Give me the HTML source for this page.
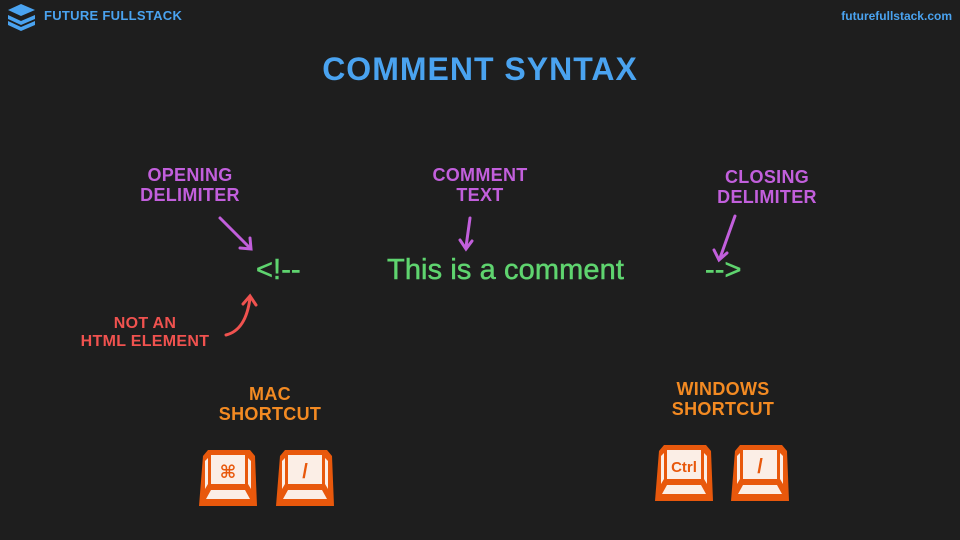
<!DOCTYPE html>
<html><head><meta charset="utf-8"><style>
body{margin:0;width:960px;height:540px;background:#1e1e1e;position:relative;overflow:hidden;font-family:"Liberation Sans",sans-serif}
.t{position:absolute;font-weight:bold;text-align:center;line-height:1.1;letter-spacing:0.3px}
.p{color:#c25fdc;font-size:18px}
.o{color:#f38a22;font-size:18px}
.r{color:#f0524f;font-size:16px}
.g{position:absolute;color:#5fd46f;font-size:29px;letter-spacing:0.1px;-webkit-text-stroke:0.5px #5fd46f}
</style></head><body>
<svg width="960" height="540" style="position:absolute;left:0;top:0">
<g fill="#4aa3f0"><path d="M8 10 L21 4 L35 10 L21 16Z"/><path d="M8 15 L21 21 L35 15 L35 19 L21 25 L8 19Z"/><path d="M8 21 L21 27 L35 21 L35 25 L21 31 L8 25Z"/></g>
<g stroke="#c25fdc" stroke-width="3" fill="none" stroke-linecap="round">
<path d="M220 218 L250 248"/><path d="M240 248 L251 249 L250 238"/>
<path d="M470 218 L466 247"/><path d="M460 240 L466 249 L472 241"/>
<path d="M735 216 L720 258"/><path d="M714 250 L719 260 L727 253"/>
</g>
<g stroke="#f0524f" stroke-width="3" fill="none" stroke-linecap="round">
<path d="M226 335 Q246 330 250 298"/><path d="M243 304 L250 296 L256 305"/>
</g>
<defs><g id="k">
<path d="M3 7 L8 1 L50 1 L55 7 L57 57 L-1 57 Z" fill="#e8580c"/>
<path d="M11 6 L45 6 L45 35 L11 35Z" fill="#fbeee6"/>
<path d="M5 12 L8 9 L8 35 L5 40Z" fill="#fbeee6"/>
<path d="M51 12 L48 9 L48 35 L51 40Z" fill="#fbeee6"/>
<path d="M11 41 L45 41 L50 50 L6 50Z" fill="#fbeee6"/>
</g></defs>
<use href="#k" x="200" y="449"/><use href="#k" x="277" y="449"/>
<use href="#k" x="656" y="444"/><use href="#k" x="732" y="444"/>
<text x="228" y="478" fill="#e8580c" font-size="18" font-weight="bold" text-anchor="middle" font-family="DejaVu Sans">⌘</text>
<text x="305" y="478" fill="#e8580c" font-size="20" font-weight="bold" text-anchor="middle">/</text>
<text x="684" y="472" fill="#e8580c" font-size="15" font-weight="bold" text-anchor="middle">Ctrl</text>
<text x="760" y="473" fill="#e8580c" font-size="20" font-weight="bold" text-anchor="middle">/</text>
</svg>
<div class="t" style="left:44px;top:9px;color:#4aa3f0;font-size:13px;font-weight:900">FUTURE FULLSTACK</div>
<div class="t" style="right:8px;top:10px;color:#4aa3f0;font-size:12px;letter-spacing:0">futurefullstack.com</div>
<div class="t" style="left:0;width:960px;top:52px;color:#4aa3f0;font-size:32px;letter-spacing:1px">COMMENT SYNTAX</div>
<div class="t p" style="left:130px;width:120px;top:166px">OPENING<br>DELIMITER</div>
<div class="t p" style="left:420px;width:120px;top:166px">COMMENT<br>TEXT</div>
<div class="t p" style="left:707px;width:120px;top:168px">CLOSING<br>DELIMITER</div>
<div class="g" style="left:256px;top:254px">&lt;!--</div>
<div class="g" style="left:387px;top:254px">This is a comment</div>
<div class="g" style="left:705px;top:254px">--&gt;</div>
<div class="t r" style="left:70px;width:150px;top:315px">NOT AN<br>HTML ELEMENT</div>
<div class="t o" style="left:210px;width:120px;top:385px">MAC<br>SHORTCUT</div>
<div class="t o" style="left:660px;width:126px;top:380px">WINDOWS<br>SHORTCUT</div>
</body></html>
